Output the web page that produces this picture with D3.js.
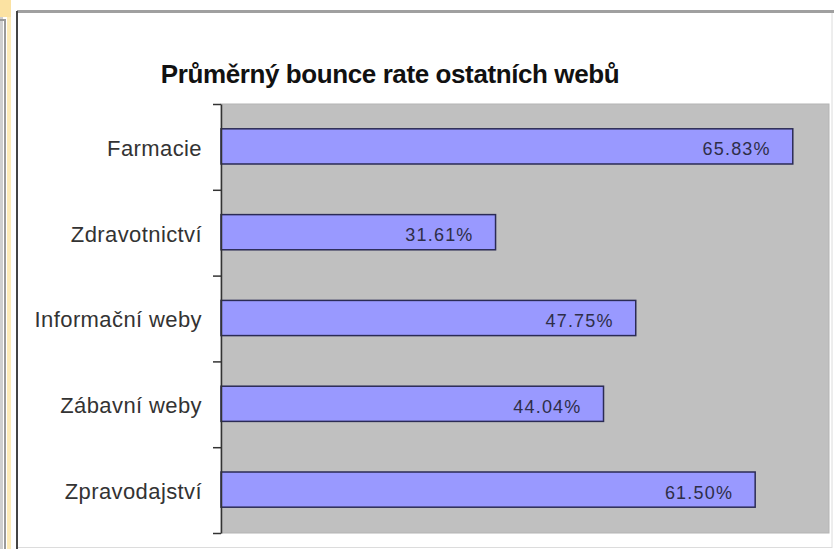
<!DOCTYPE html>
<html>
<head>
<meta charset="utf-8">
<script src="https://cdn.jsdelivr.net/npm/d3@7"></script>
<style>
  body { margin: 0; background: #fff; }
  svg { display: block; font-family: "Liberation Sans", Arial, sans-serif; }
</style>
</head>
<body>
<div id="chart"></div>
<script>
var categories = ["Farmacie", "Zdravotnictví", "Informační weby", "Zábavní weby", "Zpravodajství"];
var values = [65.83, 31.61, 47.75, 44.04, 61.50];
var valueLabels = ["65.83%", "31.61%", "47.75%", "44.04%", "61.50%"];
var title = "Průměrný bounce rate ostatních webů";

var W = 835, H = 549;
var plot = {left: 221, top: 104, right: 829, bottom: 533};

var svg = d3.select("#chart").append("svg")
    .attr("width", W)
    .attr("height", H);

// left strip of the slide behind the chart
svg.append("rect").attr("x", 0).attr("y", 0).attr("width", 3).attr("height", H).attr("fill", "#cfcfcf");
svg.append("rect").attr("x", 4).attr("y", 20).attr("width", 2).attr("height", H).attr("fill", "#9a9a9a");
svg.append("rect").attr("x", 0).attr("y", 19).attr("width", 6).attr("height", 2).attr("fill", "#9a9a9a");
svg.append("rect").attr("x", 7).attr("y", 0).attr("width", 4).attr("height", H).attr("fill", "#fdebb8");
svg.append("rect").attr("x", 0).attr("y", 0).attr("width", 11).attr("height", 17).attr("fill", "#fbe2a2");

// chart frame
svg.append("rect")
    .attr("x", 17).attr("y", 11.5)
    .attr("width", 815).attr("height", 536)
    .attr("fill", "#fff")
    .attr("stroke", "#dcdcdc")
    .attr("stroke-width", 1);
svg.append("line")
    .attr("x1", 17).attr("x2", 834).attr("y1", 11.5).attr("y2", 11.5)
    .attr("stroke", "#a0a0a0").attr("stroke-width", 3);
svg.append("line")
    .attr("x1", 17).attr("x2", 17).attr("y1", 11).attr("y2", H)
    .attr("stroke", "#444").attr("stroke-width", 2);

svg.append("text")
    .attr("x", 390).attr("y", 83)
    .attr("text-anchor", "middle")
    .attr("font-size", 26)
    .attr("font-weight", "bold")
    .attr("letter-spacing", "-0.4px")
    .attr("fill", "#111")
    .text(title);

var x = d3.scaleLinear()
    .domain([0, 70])
    .range([plot.left, plot.right]);

var y = d3.scaleBand()
    .domain(categories)
    .range([plot.top, plot.bottom]);

var yTicks = d3.scaleLinear()
    .domain([0, categories.length])
    .range([plot.top, plot.bottom]);

// plot background
svg.append("rect")
    .attr("x", plot.left).attr("y", plot.top)
    .attr("width", plot.right - plot.left)
    .attr("height", plot.bottom - plot.top)
    .attr("fill", "#c0c0c0")
    .attr("stroke", "#b4b4b4")
    .attr("stroke-width", 1);

// BARS
var barH = y.bandwidth() * 0.41;

svg.selectAll(".bar")
    .data(values)
    .enter().append("rect")
    .attr("class", "bar")
    .attr("x", x(0))
    .attr("y", function(d, i) { return y(categories[i]) + (y.bandwidth() - barH) / 2 - 0.5; })
    .attr("width", function(d) { return x(d) - x(0); })
    .attr("height", barH)
    .attr("fill", "#9999ff")
    .attr("stroke", "#2b2b55")
    .attr("stroke-width", 1.5);

// VALUE LABELS
svg.selectAll(".val")
    .data(values)
    .enter().append("text")
    .attr("class", "val")
    .attr("x", function(d) { return x(d) - 22; })
    .attr("y", function(d, i) { return y(categories[i]) + y.bandwidth() / 2 + 8.5; })
    .attr("text-anchor", "end")
    .attr("font-size", 18)
    .attr("letter-spacing", "1.2px")
    .attr("fill", "#2e2e48")
    .text(function(d, i) { return valueLabels[i]; });

// AXIS: ticks at category boundaries
svg.append("g")
    .attr("transform", "translate(" + plot.left + ",0)")
    .call(d3.axisLeft(yTicks).ticks(categories.length).tickSize(8).tickSizeOuter(0).tickFormat(""))
    .call(function(g) {
        g.selectAll("line").attr("stroke", "#333").attr("stroke-width", 1.5);
        g.select(".domain").attr("stroke", "#333").attr("stroke-width", 1.5);
    });

// category labels
svg.append("g")
    .attr("transform", "translate(" + plot.left + ",0)")
    .call(d3.axisLeft(y).tickSize(0).tickPadding(19))
    .call(function(g) {
        g.select(".domain").remove();
        g.selectAll("text")
            .attr("font-size", 22)
            .attr("font-family", "'Liberation Sans', Arial, sans-serif")
            .attr("letter-spacing", "0.4px")
            .attr("fill", "#333")
            .attr("dy", "0.4em");
    });
</script>
</body>
</html>
